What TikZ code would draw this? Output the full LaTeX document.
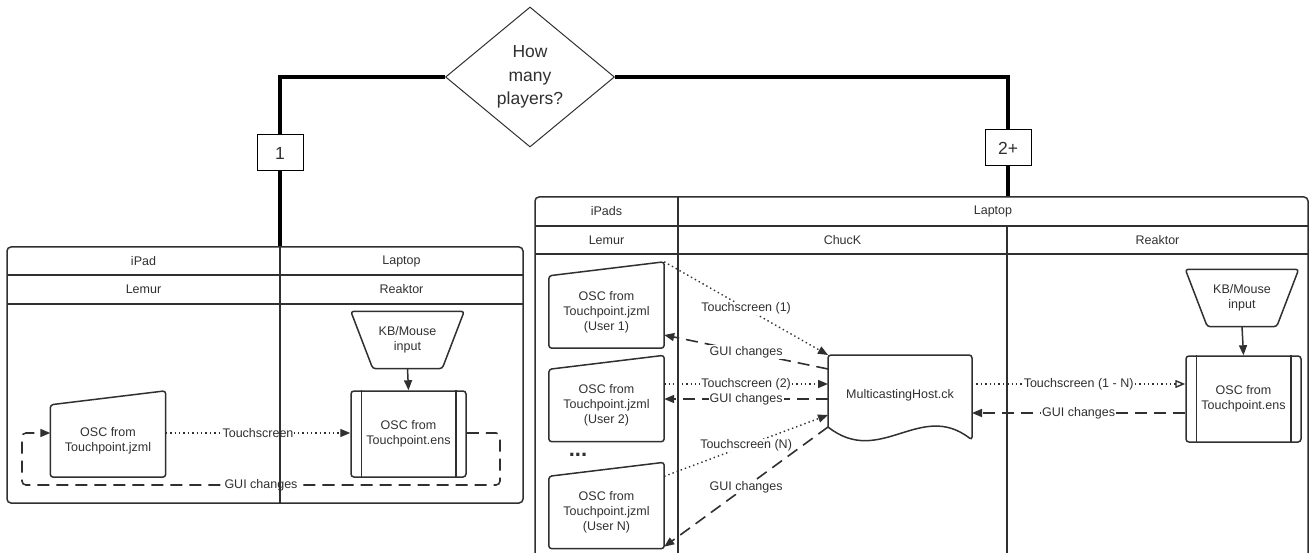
\documentclass[tikz,border=0pt]{standalone}
\usepackage{fontspec}
\setmainfont{Liberation Sans}
\usetikzlibrary{arrows.meta,shapes.geometric}
\definecolor{ink}{HTML}{303030}

\begin{document}
\begin{tikzpicture}[
    x=1pt, y=-1pt,
    font=\fontsize{12.5}{15}\selectfont,
    text=ink,
    every node/.style={align=center, inner sep=1pt},
    lbl/.style={fill=white},
    frame/.style={draw=ink, line width=1.5pt},
    manual/.style={minimum width=115pt, minimum height=72pt},
    kbin/.style={minimum width=113pt, minimum height=57pt},
    proc/.style={frame, rounded corners=3pt, minimum width=115pt, minimum height=86pt},
    branch/.style={draw=black, line width=4pt},
    choice/.style={draw=black, fill=white, line width=1pt, minimum width=46pt, minimum height=36pt,
        font=\fontsize{17.5}{20}\selectfont},
    touch/.style={draw=ink, line width=1.4pt, dash pattern=on 1.4pt off 3pt, -{Triangle[length=10pt,width=8pt]}},
    gui/.style={draw=ink, line width=1.6pt, dash pattern=on 12pt off 7pt, -{Triangle[length=10pt,width=8pt]}},
]
\useasboundingbox (0,0) rectangle (1309,553);

% question and branches
\node[diamond, draw=ink, line width=1pt, aspect=1.2, minimum width=169pt, minimum height=140pt,
    inner sep=0pt, font=\fontsize{17.5}{23.5}\selectfont] (q) at (530,77) {How\\many\\players?};
\node[choice] (one) at (280,153) {1};
\node[choice] (two) at (1008,148) {2+};
\coordinate (lpan) at (280,247);
\coordinate (rpan) at (1008,197);
\draw[branch] (q.west) -| (one.north) (one.south) -- (lpan);
\draw[branch] (q.east) -| (two.north) (two.south) -- (rpan);

% one player
\node[manual] (lem) at (108,441) {OSC from\\Touchpoint.jzml};
\node[kbin] (kb1) at (407.5,340) {KB/Mouse\\input};
\node[proc] (ens1) at (408.5,434) {OSC from\\Touchpoint.ens};

% two or more players
\node[manual] (u1) at (606.5,312) {OSC from\\Touchpoint.jzml\\(User 1)};
\node[manual] (u2) at (606.5,405.5) {OSC from\\Touchpoint.jzml\\(User 2)};
\node (dots) at (578,455) {\textbf{\fontsize{22}{22}\selectfont...}};
\node[manual] (u3) at (606.5,512.5) {OSC from\\Touchpoint.jzml\\(User N)};
\node[minimum width=144pt, minimum height=85pt] (host) at (900,395) {MulticastingHost.ck};
\node[kbin] (kb2) at (1242,298) {KB/Mouse\\input};
\node[proc] (ens2) at (1243.5,399) {OSC from\\Touchpoint.ens};

% outlines
\foreach \n in {lem,u1,u2,u3}
    \draw[frame, rounded corners=3pt] (\n.south west) -- (\n.north west)
        -- ([yshift=14pt]\n.north east) -- (\n.south east) -- cycle;
\foreach \n in {kb1,kb2}
    \draw[frame, rounded corners=3pt] (\n.north west) -- (\n.north east)
        -- ([xshift=-22pt]\n.south east) -- ([xshift=22pt]\n.south west) -- cycle;
\foreach \n in {ens1,ens2}
    \draw[frame] ([xshift=11pt]\n.north west) -- ([xshift=11pt]\n.south west)
        ([xshift=-11pt]\n.north east) -- ([xshift=-11pt]\n.south east);
\draw[frame, rounded corners=3pt] (828,427) -- (828,355) -- (972,355) -- (972,440)
    [sharp corners] .. controls (920,400) and (880,468) .. (828,427) -- cycle;

% connectors, one player
\draw[frame, -{Triangle[length=10pt,width=8pt]}] (kb1.south) -- (ens1.north);
\draw[touch] ([yshift=8pt]lem.east) coordinate (t0) -- node[lbl]{Touchscreen} (t0 -| ens1.west);
\draw[gui, rounded corners=4pt] (t0 -| ens1.east) -- (500,433) -- (500,485)
    -- node[lbl]{GUI changes} (22,485) -- (22,433) -- (t0 -| lem.west);

% connectors, two or more players
\draw[touch] ([yshift=14pt]u1.north east) -- node[lbl]{Touchscreen (1)} (828,355);
\draw[gui] (828,369) -- node[lbl]{GUI changes} ([yshift=-23pt]u1.east);
\draw[touch] ([yshift=21.5pt]u2.east) -- node[lbl]{Touchscreen (2)} (828,384);
\draw[gui] (828,399) -- node[lbl]{GUI changes} ([yshift=6.5pt]u2.east);
\draw[touch] (u3.north east) -- node[lbl]{Touchscreen (N)} (828,415);
\draw[gui] (828,427) -- node[lbl]{GUI changes} ([yshift=2pt]u3.south east);
\draw[touch, -{Triangle[open,length=10pt,width=8pt]}] (972,384) -- node[lbl]{Touchscreen (1 - N)} ([yshift=15pt]ens2.west);
\draw[gui] ([yshift=-14pt]ens2.west) -- node[lbl]{GUI changes} (972,413);
\draw[frame, -{Triangle[length=10pt,width=8pt]}] (kb2.south) -- (ens2.north);

% lanes, one player
\draw[frame, rounded corners=4pt] (7,247) rectangle (523,503);
\draw[frame] (7,275) -- (523,275) (7,304) -- (523,304) (280,247) -- (280,503);
\node (ipad) at (143.5,261) {iPad};
\node (lap1) at (401.5,261) {Laptop};
\node (lemur1) at (143.5,289.5) {Lemur};
\node (reak1) at (401.5,289.5) {Reaktor};

% lanes, two or more players
\draw[frame, rounded corners=4pt] (535,553) -- (535,197) -- (1308,197) -- (1308,553);
\draw[frame] (535,226) -- (1308,226) (535,254) -- (1308,254)
    (678,197) -- (678,553) (1007,226) -- (1007,553);
\node (ipads) at (606.5,211.5) {iPads};
\node (lap2) at (993,211.5) {Laptop};
\node (lemur2) at (606.5,240) {Lemur};
\node (chuck) at (842.5,240) {ChucK};
\node (reak2) at (1157.5,240) {Reaktor};
\end{tikzpicture}
\end{document}
